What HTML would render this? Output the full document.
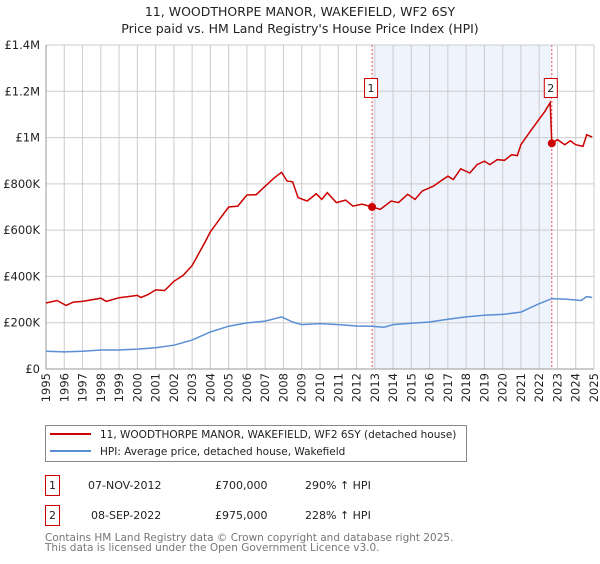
<!DOCTYPE html>
<html><head><meta charset="utf-8"><style>
body{margin:0;background:#fff;font-family:"DejaVu Sans","Liberation Sans",sans-serif;}
svg text{font-family:"DejaVu Sans","Liberation Sans",sans-serif;}
</style></head><body>
<svg id="chart" width="600" height="560" xmlns="http://www.w3.org/2000/svg">
<text x="300" y="16" text-anchor="middle" font-size="12.5" fill="#222">11, WOODTHORPE MANOR, WAKEFIELD, WF2 6SY</text>
<text x="300" y="33" text-anchor="middle" font-size="12.5" fill="#222">Price paid vs. HM Land Registry's House Price Index (HPI)</text>
<g id="plot"></g>
<g>
<rect x="45.5" y="425.5" width="421" height="36" fill="#fff" stroke="#888"/>
<line x1="50" y1="434" x2="91" y2="434" stroke="#cc0000" stroke-width="2"/>
<text x="100" y="438" font-size="10.5" fill="#222">11, WOODTHORPE MANOR, WAKEFIELD, WF2 6SY (detached house)</text>
<line x1="50" y1="451" x2="91" y2="451" stroke="#5b8fd4" stroke-width="2"/>
<text x="100" y="455" font-size="10.5" fill="#222">HPI: Average price, detached house, Wakefield</text>
</g>
<g font-size="11" fill="#222">
<rect x="45.5" y="475.5" width="14" height="20" fill="#fff" stroke="#cc0000"/>
<text x="52.5" y="489" text-anchor="middle">1</text>
<text x="88" y="489">07-NOV-2012</text><text x="215" y="489">£700,000</text><text x="305" y="489">290% ↑ HPI</text>
<rect x="45.5" y="505.5" width="14" height="20" fill="#fff" stroke="#cc0000"/>
<text x="52.5" y="519" text-anchor="middle">2</text>
<text x="91" y="519">08-SEP-2022</text><text x="215" y="519">£975,000</text><text x="305" y="519">228% ↑ HPI</text>
</g>
<text x="45" y="541" font-size="10.5" fill="#777">Contains HM Land Registry data © Crown copyright and database right 2025.</text>
<text x="45" y="551" font-size="10.5" fill="#777">This data is licensed under the Open Government Licence v3.0.</text>
</svg>
<script>
const years=[1995,1996,1997,1998,1999,2000,2001,2002,2003,2004,2005,2006,2007,2008,2009,2010,2011,2012,2013,2014,2015,2016,2017,2018,2019,2020,2021,2022,2023,2024,2025];
const yTicks=[0,200,400,600,800,1000,1200,1400];
const yTickLabels=["£0","£200K","£400K","£600K","£800K","£1M","£1.2M","£1.4M"];
const redT=[1995,1995.6,1996.1,1996.5,1997,1998,1998.3,1999,2000,2000.2,2000.6,2001,2001.5,2002,2002.5,2003,2003.3,2003.7,2004,2004.5,2005,2005.5,2006,2006.5,2007,2007.5,2007.9,2008.2,2008.5,2008.8,2009.3,2009.8,2010.1,2010.4,2010.9,2011.4,2011.8,2012.3,2012.85,2013.3,2013.9,2014.3,2014.8,2015.2,2015.6,2016.2,2016.6,2017,2017.3,2017.7,2018.2,2018.6,2019,2019.3,2019.7,2020.1,2020.5,2020.8,2021,2021.5,2021.9,2022.3,2022.6,2022.69,2023,2023.4,2023.7,2024,2024.4,2024.6,2024.9];
const redV=[285,296,275,289,292,306,292,308,318,309,322,342,339,379,404,447,490,547,593,647,700,704,752,753,790,826,850,812,809,740,726,757,733,762,719,730,704,712,700,690,726,719,755,733,769,790,812,833,819,865,847,883,898,883,905,902,926,922,969,1026,1069,1112,1151,976,991,969,986,969,962,1012,1002];
const blueT=[1995,1996,1997,1998,1999,2000,2001,2002,2003,2004,2005,2006,2007,2007.9,2008.5,2009,2010,2011,2012,2012.85,2013.5,2014,2015,2016,2017,2018,2019,2020,2021,2022,2022.7,2023.5,2024.3,2024.6,2024.9];
const blueV=[77,74,77,82,82,86,92,103,125,160,185,199,207,225,203,192,196,192,186,185,180,192,198,203,215,225,232,236,246,282,304,301,296,313,309];
const saleT=[2012.85,2022.69];
const saleV=[700,975];
const saleLabels=["1","2"];
const X0=46,X1=594,Y0=369,Y1=45;
const xs=t=>X0+(t-1995)/30*(X1-X0);
const ys=v=>Y0-v/1400*(Y0-Y1);
const NS="http://www.w3.org/2000/svg";
const g=document.getElementById('plot');
function mk(tag,attrs,parent){const e=document.createElementNS(NS,tag);for(const k in attrs)e.setAttribute(k,attrs[k]);(parent||g).appendChild(e);return e;}
let r=mk('rect',{x:xs(saleT[0]),y:Y1,width:xs(saleT[1])-xs(saleT[0]),height:Y0-Y1,fill:'#eef3fc'});


years.forEach((yr,i)=>{
 let l=mk('line',{x1:xs(yr),x2:xs(yr),y1:Y1,y2:Y0,stroke:'#ccc','stroke-width':1});
 
 
 let t=mk('text',{x:0,y:0,'font-size':11.5,fill:'#222','text-anchor':'end',transform:`translate(${xs(yr)+4},${Y0+4}) rotate(-90)`});
 t.textContent=yr;
 
 
});
yTicks.forEach((v,i)=>{
 let l=mk('line',{x1:X0,x2:X1,y1:ys(v),y2:ys(v),stroke:'#ccc','stroke-width':1});
 
 
 let t=mk('text',{x:X0-6,y:ys(v)+4,'font-size':11.5,fill:'#222','text-anchor':'end'});
 t.textContent=yTickLabels[i];
 
 
});
let ax=mk('path',{d:`M${X0},${Y1}V${Y0}H${X1}`,fill:'none',stroke:'#999'});


saleT.forEach((t,i)=>{
 let l=mk('line',{x1:xs(t),x2:xs(t),y1:Y1,y2:Y0,stroke:'#e55','stroke-width':1,'stroke-dasharray':'2,2'});
 
 
});
const pts=(T,V)=>T.map((t,i)=>xs(t).toFixed(1)+','+ys(V[i]).toFixed(1)).join(' ');
let bl=mk('polyline',{points:pts(blueT,blueV),fill:'none',stroke:'#5b8fd4','stroke-width':1.5});


let rl=mk('polyline',{points:pts(redT,redV),fill:'none',stroke:'#cc0000','stroke-width':1.5});


saleT.forEach((t,i)=>{
 let c=mk('circle',{cx:xs(t),cy:ys(saleV[i]),r:4,fill:'#cc0000'});
 
 
 let b=mk('rect',{x:xs(t)-7.5,y:78.5,width:13,height:19,fill:'#fff',stroke:'#cc0000'});
 
 
 let tx=mk('text',{x:xs(t)-1,y:92,'font-size':11,fill:'#222','text-anchor':'middle'});
 tx.textContent=saleLabels[i];
 
 
});
</script>
</body></html>
